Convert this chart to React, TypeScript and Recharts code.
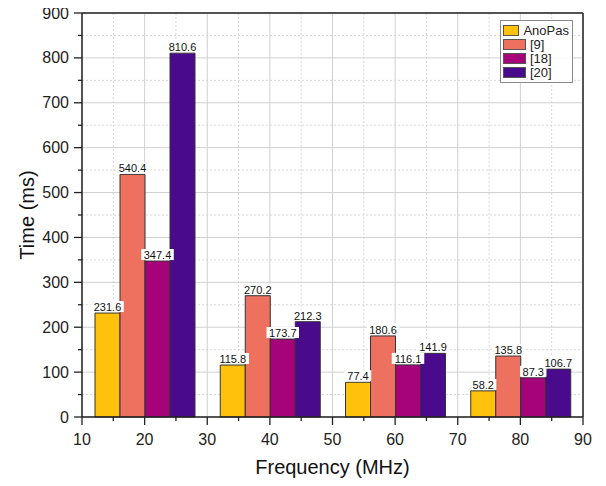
import React from 'react';
import { BarChart, Bar, XAxis, YAxis, CartesianGrid, Legend, LabelList } from 'recharts';

const frequencies = [20, 40, 60, 80];
const anoPas = [231.6, 115.8, 77.4, 58.2];
const ref9 = [540.4, 270.2, 180.6, 135.8];
const ref18 = [347.4, 173.7, 116.1, 87.3];
const ref20 = [810.6, 212.3, 141.9, 106.7];
const seriesNames = ['AnoPas', '[9]', '[18]', '[20]'];
const seriesColors = ['#FEC20C', '#EE705E', '#A6027A', '#4A0A8C'];

const xMajorTicks = [10, 20, 30, 40, 50, 60, 70, 80, 90];
const xMinorTicks = [15, 25, 35, 45, 55, 65, 75, 85];
const yMajorTicks = [0, 100, 200, 300, 400, 500, 600, 700, 800, 900];
const yMinorTicks = [50, 150, 250, 350, 450, 550, 650, 750, 850];

const xAllTicks = [...xMajorTicks, ...xMinorTicks].sort((a, b) => a - b);
const yAllTicks = [...yMajorTicks, ...yMinorTicks].sort((a, b) => a - b);

const data = frequencies.map((f, i) => ({
  freq: f,
  s0: anoPas[i],
  s1: ref9[i],
  s2: ref18[i],
  s3: ref20[i],
}));

const FONT = '"Liberation Sans", Arial, sans-serif';
const AXIS = '#222';

const LeftYTick = (props: any) => {
  const { x, y, payload } = props;
  const major = yMajorTicks.includes(payload.value);
  return (
    <g>
      <line x1={x - (major ? 8 : 4)} x2={x} y1={y} y2={y} stroke={AXIS} strokeWidth={1.3} />
      {major && (
        <text x={x - 13} y={y} textAnchor="end" dominantBaseline="central" fontSize={16} fill="#222" fontFamily={FONT}>
          {payload.value}
        </text>
      )}
    </g>
  );
};

const RightYTick = (props: any) => {
  const { x, y, payload } = props;
  const major = yMajorTicks.includes(payload.value);
  return <line x1={x - (major ? 7 : 4)} x2={x} y1={y} y2={y} stroke={AXIS} strokeWidth={1.3} />;
};

const BottomXTick = (props: any) => {
  const { x, y, payload } = props;
  const major = xMajorTicks.includes(payload.value);
  return (
    <g>
      <line x1={x} x2={x} y1={y} y2={y + (major ? 8 : 4)} stroke={AXIS} strokeWidth={1.3} />
      {major && (
        <text x={x} y={y + 28} textAnchor="middle" fontSize={16} fill="#222" fontFamily={FONT}>
          {payload.value}
        </text>
      )}
    </g>
  );
};

const TopXTick = (props: any) => {
  const { x, y, payload } = props;
  const major = xMajorTicks.includes(payload.value);
  return <line x1={x} x2={x} y1={y} y2={y + (major ? 7 : 4)} stroke={AXIS} strokeWidth={1.3} />;
};

const BarValueLabel = (props: any) => {
  const x = Number(props.x);
  const y = Number(props.y);
  const width = Number(props.width);
  const text = Number(props.value).toFixed(1);
  const cx = x + width / 2;
  const w = text.length * 6.1 + 2;
  return (
    <g>
      <rect x={cx - w / 2} y={y - 12} width={w} height={11} fill="#fff" />
      <text x={cx} y={y - 2} textAnchor="middle" fontSize={11} fill="#111" fontFamily={FONT}>
        {text}
      </text>
    </g>
  );
};

const LegendBox = () => {
  return (
    <div
      style={{
        border: '1px solid #8a8a8a',
        background: 'rgba(255,255,255,0.9)',
        padding: '2px 3px 2px 2px',
        fontFamily: FONT,
        fontSize: 13,
        color: '#222',
        width: 66,
      }}
    >
      {seriesNames.map((name, i) => (
        <div key={name} style={{ display: 'flex', alignItems: 'center', height: 14.2 }}>
          <span
            style={{
              display: 'inline-block',
              width: 23,
              height: 11,
              background: seriesColors[i],
              border: '1px solid #555',
              marginRight: 4,
              boxSizing: 'border-box',
            }}
          />
          <span style={{ lineHeight: '13px' }}>{name}</span>
        </div>
      ))}
    </div>
  );
};

export default function App() {
  return (
    <div style={{ width: 606, height: 486, background: '#fff', marginTop: -8, marginLeft: -8 }}>
      <BarChart
        width={606}
        height={486}
        data={data}
        margin={{ top: 12, right: 22, bottom: 8, left: 8 }}
        barGap={0}
        barSize={25}
        style={{ fontFamily: FONT }}
      >
        <CartesianGrid
          horizontalValues={yMinorTicks}
          verticalValues={xMinorTicks}
          stroke="#d8d8d8"
          strokeDasharray="2 2"
        />
        <CartesianGrid horizontalValues={yMajorTicks} verticalValues={xMajorTicks} stroke="#d0d0d0" />
        <XAxis
          dataKey="freq"
          type="number"
          domain={[10, 90]}
          ticks={xAllTicks}
          interval={0}
          height={61}
          tickSize={0}
          tickMargin={0}
          tick={<BottomXTick />}
          axisLine={{ stroke: AXIS, strokeWidth: 1.5 }}
          label={{
            content: (p: any) => {
              const vb = p.viewBox || {};
              return (
                <text
                  x={vb.x + vb.width / 2}
                  y={vb.y + 50}
                  textAnchor="middle"
                  dominantBaseline="central"
                  fontSize={20}
                  fill="#111"
                  fontFamily={FONT}
                >
                  Frequency (MHz)
                </text>
              );
            },
          }}
        />
        <XAxis
          xAxisId="top"
          orientation="top"
          type="number"
          domain={[10, 90]}
          ticks={xAllTicks}
          interval={0}
          height={1}
          tickSize={0}
          tickMargin={0}
          tick={<TopXTick />}
          axisLine={{ stroke: AXIS, strokeWidth: 1.5 }}
        />
        <YAxis
          type="number"
          domain={[0, 900]}
          ticks={yAllTicks}
          interval={0}
          width={74}
          tickSize={0}
          tickMargin={0}
          tick={<LeftYTick />}
          axisLine={{ stroke: AXIS, strokeWidth: 1.5 }}
          label={{
            content: (p: any) => {
              const vb = p.viewBox || {};
              const cx = vb.x + 19;
              const cy = vb.y + vb.height / 2;
              return (
                <text
                  x={cx}
                  y={cy}
                  transform={`rotate(-90 ${cx} ${cy})`}
                  textAnchor="middle"
                  dominantBaseline="central"
                  fontSize={20}
                  fill="#111"
                  fontFamily={FONT}
                >
                  Time (ms)
                </text>
              );
            },
          }}
        />
        <YAxis
          yAxisId="right"
          orientation="right"
          type="number"
          domain={[0, 900]}
          ticks={yAllTicks}
          interval={0}
          width={1}
          tickSize={0}
          tickMargin={0}
          tick={<RightYTick />}
          axisLine={{ stroke: AXIS, strokeWidth: 1.5 }}
        />
        <Legend
          layout="vertical"
          align="center"
          verticalAlign="middle"
          wrapperStyle={{ top: 20, left: 500, width: 73 }}
          content={<LegendBox />}
        />
        {['s0', 's1', 's2', 's3'].map((k, i) => (
          <Bar
            key={k}
            dataKey={k}
            name={seriesNames[i]}
            fill={seriesColors[i]}
            stroke="#333"
            strokeWidth={1}
            isAnimationActive={false}
          >
            <LabelList dataKey={k} content={<BarValueLabel />} />
          </Bar>
        ))}
      </BarChart>
    </div>
  );
}
